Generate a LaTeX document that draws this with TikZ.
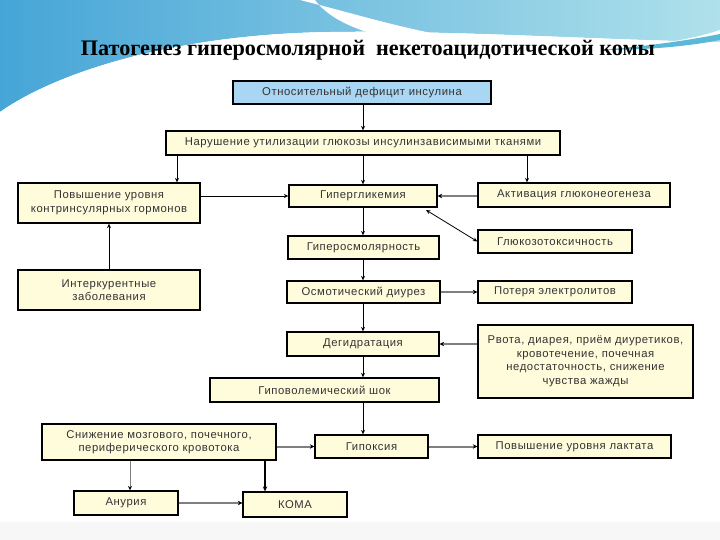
\documentclass[tikz,border=0pt]{standalone}
\usepackage{fontspec}
\setmainfont{Liberation Sans}[LetterSpace=5]
\newfontfamily\titlefont{Liberation Serif}
\usetikzlibrary{arrows.meta,shadows}
\definecolor{cream}{HTML}{FFFCDC}
\definecolor{lblue}{HTML}{A9D6F2}
\definecolor{arrgray}{HTML}{7F7F7F}
\definecolor{swdark}{RGB}{70,165,215}
\definecolor{swlight}{RGB}{175,225,235}
\definecolor{swteal}{RGB}{90,185,215}
\tikzset{
  box/.style={draw=black, line width=1.3pt, fill=cream, inner sep=1pt, align=center,
    font=\fontsize{11.3}{13.5}\selectfont, text=black!80,
    drop shadow={shadow xshift=1.2pt, shadow yshift=-1.2pt, fill=black!45, opacity=0.8}},
  conn/.style={draw=black, line width=0.8pt, -{Stealth[length=4.5pt,width=4pt]}},
  gconn/.style={draw=arrgray, line width=2pt, -{Stealth[length=4.5pt,width=4.5pt,color=black]}},
}
\begin{document}
\begin{tikzpicture}[x=1pt,y=-1pt]
\useasboundingbox (0,0) rectangle (720,540);
\fill[white] (0,0) rectangle (720,540);
\fill[black!3] (0,522) rectangle (720,540);
% top swoosh
\shade[left color=swdark, right color=swlight]
  (0,0) -- (720,0) -- (720,42) .. controls (600,40) and (450,30) .. (330,32)
  .. controls (180,34) and (60,70) .. (0,112) -- cycle;
\fill[white] (300,0) .. controls (380,20) and (450,45) .. (560,48)
  .. controls (640,50) and (690,40) .. (720,30) -- (720,36) .. controls (650,60) and (520,62) .. (420,45)
  .. controls (360,34) and (330,20) .. (315,0) -- cycle;
\fill[white] (0,112) .. controls (60,70) and (180,34) .. (330,32) .. controls (450,30) and (600,40) .. (720,42)
  -- (720,60) -- (0,130) -- cycle;
\fill[swteal] (600,50) .. controls (650,46) and (690,40) .. (720,34) -- (720,40) .. controls (690,46) and (650,50) .. (600,50) -- cycle;

\node[font=\titlefont\bfseries\fontsize{22.2}{25}\selectfont] (title) at (368,50) {Патогенез гиперосмолярной\ \ некетоацидотической комы};

\node[box, fill=lblue, minimum width=258, minimum height=23] (b1) at (362,92.5) {Относительный дефицит инсулина};
\node[box, minimum width=394, minimum height=24] (b2) at (363,143) {Нарушение утилизации глюкозы инсулинзависимыми тканями};
\node[box, minimum width=182, minimum height=40] (kontr) at (109,203) {Повышение уровня\\контринсулярных гормонов};
\node[box, minimum width=148, minimum height=22] (hyperg) at (363,196) {Гипергликемия};
\node[box, minimum width=192, minimum height=24] (activ) at (574,195) {Активация глюконеогенеза};
\node[box, minimum width=151, minimum height=23] (hyperosm) at (363.5,247.5) {Гиперосмолярность};
\node[box, minimum width=154, minimum height=23] (glucotox) at (555,241.5) {Глюкозотоксичность};
\node[box, minimum width=182, minimum height=40] (inter) at (109,290) {Интеркурентные\\заболевания};
\node[box, minimum width=153, minimum height=22] (osmot) at (363.5,292) {Осмотический диурез};
\node[box, minimum width=154, minimum height=22] (poter) at (555,292) {Потеря электролитов};
\node[box, minimum width=152, minimum height=24] (degid) at (363,344) {Дегидратация};
\node[box, minimum width=215, minimum height=73] (rvota) at (585.5,361.5) {Рвота, диарея, приём диуретиков,\\кровотечение, почечная\\недостаточность, снижение\\чувства жажды};
\node[box, minimum width=229, minimum height=24] (hypovol) at (324.5,390) {Гиповолемический шок};
\node[box, minimum width=234, minimum height=36] (snizh) at (159,442) {Снижение мозгового, почечного,\\периферического кровотока};
\node[box, minimum width=113, minimum height=23] (hypox) at (371.5,446.5) {Гипоксия};
\node[box, minimum width=193, minimum height=23] (lact) at (574.5,446.5) {Повышение уровня лактата};
\node[box, minimum width=104, minimum height=24] (anur) at (126,503) {Анурия};
\node[box, minimum width=104, minimum height=25] (koma) at (295,504.5) {КОМА};

\coordinate (cx) at (363,0);
\coordinate (lx) at (177,0);
\coordinate (rx) at (527,0);
\draw[conn] (b1.south -| cx) -- (b2.north -| cx);
\draw[conn] (b2.south -| lx) -- (kontr.north -| lx);
\draw[conn] (b2.south -| cx) -- (hyperg.north -| cx);
\draw[conn] (b2.south -| rx) -- (activ.north -| rx);
\draw[conn] (hyperg.west -| kontr.east) -- (hyperg.west);
\draw[conn] (inter.north) -- (kontr.south);
\draw[gconn] (hyperg.east -| activ.west) -- (hyperg.east);
\coordinate (gt) at (426,210);
\draw[draw=black, line width=0.8pt, {Stealth[length=4.5pt,width=4pt]}-{Stealth[length=4.5pt,width=4pt]}] (gt) -- (glucotox.west);
\draw[conn] (hyperg.south -| cx) -- (hyperosm.north -| cx);
\draw[conn] (hyperosm.south -| cx) -- (osmot.north -| cx);
\draw[gconn] (osmot.east) -- (poter.west);
\draw[conn] (osmot.south -| cx) -- (degid.north -| cx);
\draw[gconn] (rvota.west |- degid.east) -- (degid.east);
\draw[conn] (degid.south -| cx) -- (hypovol.north -| cx);
\draw[conn] (hypovol.south -| cx) -- (hypox.north -| cx);
\draw[gconn] (snizh.east |- hypox.west) -- (hypox.west);
\draw[gconn] (hypox.east) -- (lact.west);
\coordinate (ax) at (130,0);
\coordinate (kx) at (265,0);
\draw[draw=arrgray, line width=1pt, -{Stealth[length=4.5pt,width=4pt,color=black]}] (snizh.south -| ax) -- (anur.north -| ax);
\draw[draw=black, line width=1.3pt, -{Stealth[length=5pt,width=4.5pt]}] (snizh.south -| kx) -- (koma.north -| kx);
\draw[gconn] (anur.east) -- (anur.east -| koma.west);
\end{tikzpicture}
\end{document}
